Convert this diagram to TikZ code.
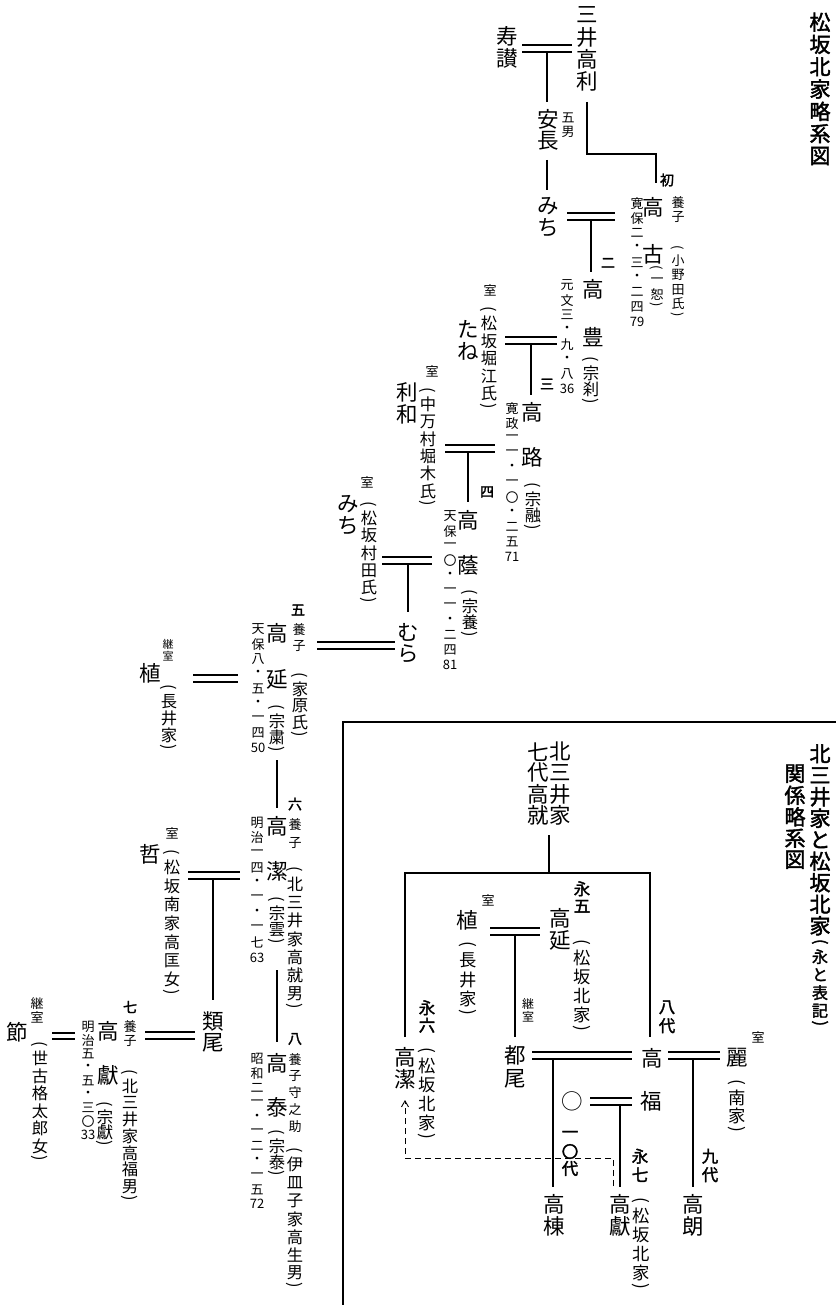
\documentclass[tikz,border=0pt]{standalone}
\usepackage{fontspec}
\usepackage{graphicx}
\usetikzlibrary{arrows.meta}
\newfontfamily\jp{Noto Sans CJK JP}
\newfontfamily\jpb[FakeBold=2]{Noto Sans CJK JP}
\newlength\tatep \newlength\tatew
\def\tateend{TATEEND}\def\PO{POPEN}\def\PC{PCLOSE}\def\kk{\mbox{}}
\def\tateloop#1{\ifx\tateend#1\else\tateitem{#1}\expandafter\tateloop\fi}
\def\tateitem#1{\ifx\PO#1\tateparen{(}\else\ifx\PC#1\tateparen{)}\else\tatecell{#1}\fi\fi}
\def\tatecell#1{\hbox to\tatew{\hss\vbox to\tatep{\vss\hbox{#1}\vss}\hss}}
\def\tateparen#1{\hbox to\tatew{\hss\vbox{\kern1pt\hbox{\rotatebox[origin=c]{-90}{#1}}\kern1pt}\hss}}
\newcommand\V[2][22]{\vbox{\offinterlineskip\tatep=#1pt\tatew=1.4em\tateloop#2\tateend}}
\newcommand\dbl[3]{\draw[ln] (#1,#3) -- (#2,#3) (#1,#3+7) -- (#2,#3+7);}
\tikzset{
 base/.style={inner sep=0pt, outer sep=0pt, anchor=north},
 nm/.style={base, font=\jp\fontsize{21.5}{21.5}\selectfont},
 sm/.style={base, font=\jp\fontsize{13}{13}\selectfont},
 an/.style={base, font=\jp\fontsize{16.3}{16.3}\selectfont},
 anb/.style={base, font=\jp\fontsize{17.3}{17.3}\selectfont},
 gen/.style={base, font=\jpb\fontsize{14}{14}\selectfont},
 genb/.style={base, font=\jpb\fontsize{16.5}{16.5}\selectfont},
 ttl/.style={base, font=\jpb\fontsize{21}{21}\selectfont},
 ln/.style={line width=1.1pt},
 dsh/.style={line width=0.9pt, dash pattern=on 6pt off 4pt},
}
\begin{document}
\begin{tikzpicture}[x=1pt,y=-1pt]
\fill[white] (0,0) rectangle (836,1305);
\useasboundingbox (0,0) rectangle (836,1305);
% frame of the right chart
\draw[ln] (343,1305) -- (343,722) -- (836,722);
% titles
\node[ttl] (t1) at (820,11) {\V[22.3]{松坂北家略系図}};
\node[ttl] (t2) at (820,743) {\V[21.5]{北三井家と松坂北家}};
\node[base, font=\jpb\fontsize{16}{16}\selectfont] (t2b) at (820,938) {\V[18]{\PO 永と表記\PC}};
\node[ttl] (t3) at (795,763) {\V[21.5]{関係略系図}};
% ---------- left chart ----------
\node[nm] (takatoshi) at (587,4) {\V{三井高利}};
\node[nm] (jusan) at (507,25) {\V{寿讃}};
\dbl{522}{572}{45}
\draw[ln] (547,52) -- (547,102);
\node[nm] (yasunaga) at (548,108) {\V{安長}};
\node[sm] (gonan) at (568,111) {\V[14]{五男}};
\draw[ln] (547,160) -- (547,190);
\node[nm] (michi1) at (548,195) {\V{みち}};
\draw[ln] (587,102) -- (587,154) -- (656,154) -- (656,183);
\node[gen] (g1) at (667,172) {\V[16]{初}};
% takahisa
\node[nm] (takahisa) at (653,196) {\V{高}};
\node[nm] (takahisab) at (653,243) {\V{古}};
\node[sm] (ichijo) at (657,265) {\V[14]{\PO 一恕\PC}};
\node[sm] (yoshi1) at (678,196) {\V[14]{養子}};
\node[sm] (onoda) at (678,245) {\V[14.5]{\PO 小野田氏\PC}};
\node[sm] (d1) at (637,196) {\V[14.8]{寛保二・三・二四{79}}};
\dbl{567}{615}{213}
\draw[ln] (591,220) -- (591,272);
\node[gen] (g2) at (608,255) {\V[16]{二}};
% takatoyo
\node[nm] (takatoyo) at (593,278) {\V{高}};
\node[nm] (takatoyob) at (593,326) {\V{豊}};
\node[an] (soset) at (591,355) {\V[16.5]{\PO 宗刹\PC}};
\node[sm] (d2) at (567,278) {\V[14.8]{元文三・九・八{36}}};
\node[sm] (shitsu1) at (490,283) {\V[14]{室}};
\node[nm] (tane) at (468,318) {\V{たね}};
\node[an] (horie) at (489,305) {\V[17.5]{\PO 松坂堀江氏\PC}};
\dbl{505}{557}{337}
\draw[ln] (531,344) -- (531,395);
\node[gen] (g3) at (547,376) {\V[16]{三}};
% takamichi
\node[nm] (takamichi) at (532,401) {\V{高}};
\node[nm] (takamichib) at (532,446) {\V{路}};
\node[an] (soyu) at (533,481) {\V[16.5]{\PO 宗融\PC}};
\node[sm] (d3) at (512,401) {\V[14.8]{寛政一一・一〇・二五{71}}};
\node[sm] (shitsu2) at (432,364) {\V[14]{室}};
\node[nm] (toshikazu) at (407,381) {\V{利和}};
\node[an] (horiki) at (428,386) {\V[17.3]{\PO 中万村堀木氏\PC}};
\dbl{445}{495}{445}
\draw[ln] (468,452) -- (468,502);
\node[gen] (g4) at (487,484) {\V[16]{四}};
% takakage
\node[nm] (takakage) at (468,509) {\V{高}};
\node[nm] (takakageb) at (468,554) {\V{蔭}};
\node[an] (soyo) at (470,588) {\V[16.5]{\PO 宗養\PC}};
\node[sm] (d4) at (450,509) {\V[14.8]{天保一〇・一一・二四{81}}};
\node[sm] (shitsu3) at (367,475) {\V[14]{室}};
\node[nm] (michi2) at (348,493) {\V{みち}};
\node[an] (murata) at (369,500) {\V[17.3]{\PO 松坂村田氏\PC}};
\dbl{382}{432}{557}
\draw[ln] (408,564) -- (408,612);
\node[nm] (mura) at (408,621) {\V{むら}};
\dbl{317}{395}{642}
% takanobu
\node[gen] (g5) at (298,602) {\V[16]{五}};
\node[sm] (yoshi2) at (299,622) {\V[16]{養子}};
\node[nm] (takanobu) at (277,622) {\V{高}};
\node[nm] (takanobub) at (277,668) {\V{延}};
\node[an] (soshuku) at (277,703) {\V[16.5]{\PO 宗粛\PC}};
\node[an] (iehara) at (300,671) {\V[16.5]{\PO 家原氏\PC}};
\node[sm] (d5) at (258,622) {\V[14.8]{天保八・五・一四{50}}};
\node[base, font=\jp\fontsize{11}{11}\selectfont] (keishitsu1) at (168,639) {\V[11.5]{継室}};
\node[nm] (ue1) at (150,662) {\V{植}};
\node[an] (nagai1) at (169,683) {\V[17]{\PO 長井家\PC}};
\dbl{193}{238}{675}
\draw[ln] (277,760) -- (277,808);
% takakiyo
\node[gen] (g6) at (295,796) {\V[16]{六}};
\node[sm] (yoshi3) at (295,816) {\V[18]{養子}};
\node[nm] (takakiyo) at (277,815) {\V{高}};
\node[nm] (takakiyob) at (277,860) {\V{潔}};
\node[an] (soun) at (277,895) {\V[16.5]{\PO 宗雲\PC}};
\node[an] (kitamitsui1) at (295,865) {\V[18.3]{\PO 北三井家高就男\PC}};
\node[sm] (d6) at (257,815) {\V[15]{明治一四・一・一七{63}}};
\draw[ln] (277,970) -- (277,1042);
% takayasu
\node[gen] (g8) at (295,1031) {\V[16]{八}};
\node[sm] (yoshi4) at (295,1051) {\V[16.7]{養子守之助}};
\node[an] (isarago) at (295,1146) {\V[18]{\PO 伊皿子家高生男\PC}};
\node[nm] (takayasu) at (277,1052) {\V{高}};
\node[nm] (takayasub) at (277,1096) {\V{泰}};
\node[an] (sotai) at (277,1128) {\V[16]{\PO 宗泰\PC}};
\node[sm] (d7) at (257,1052) {\V[14.5]{昭和二一・一二・一五{72}}};
% tetsu
\node[sm] (shitsu4) at (172,826) {\V[14]{室}};
\node[nm] (tetsu) at (150,843) {\V{哲}};
\node[an] (takamasa) at (172,848) {\V[18.7]{\PO 松坂南家高匡女\PC}};
\dbl{188}{240}{872}
\draw[ln] (213,878) -- (213,1000);
\node[nm] (ruio) at (213,1010) {\V{類尾}};
\dbl{145}{195}{1032}
% takaaki (left)
\node[gen] (g7) at (130,999) {\V[16]{七}};
\node[sm] (yoshi5) at (130,1020) {\V[14]{養子}};
\node[nm] (takaaki) at (108,1020) {\V{高}};
\node[nm] (takaakib) at (108,1064) {\V{獻}};
\node[an] (soken) at (105,1100) {\V[15]{\PO 宗獻\PC}};
\node[an] (kitamitsui2) at (130,1068) {\V[16.7]{\PO 北三井家高福男\PC}};
\node[sm] (d8) at (88,1020) {\V[13.5]{明治五・五・三〇{33}}};
\draw[ln] (52,1033) -- (75,1033) (52,1039) -- (75,1039);
\node[nm] (setsu) at (17,1021) {\V{節}};
\node[sm] (keishitsu2) at (37,997) {\V[13.5]{継室}};
\node[an] (seko) at (40,1040) {\V[17.5]{\PO 世古格太郎女\PC}};
% ---------- right chart ----------
\node[nm] (kita) at (560,741) {\V[21.3]{北三井家}};
\node[nm] (shichidai) at (538,741) {\V[21.3]{七代高就}};
\draw[ln] (549,835) -- (549,873);
\draw[ln] (405,1037) -- (405,873) -- (650,873) -- (650,1037);
\node[genb] (ei5) at (582,880) {\V[17.5]{永五}};
\node[nm] (takanobu2) at (560,907) {\V{高延}};
\node[anb] (kitake1) at (582,938) {\V[19]{\PO 松坂北家\PC}};
\node[sm] (shitsu5) at (488,893) {\V[14]{室}};
\node[nm] (ue2) at (467,909) {\V{植}};
\node[anb] (nagai2) at (468,940) {\V[19.5]{\PO 長井家\PC}};
\dbl{490}{540}{928}
\draw[ln] (515,935) -- (515,1037);
\node[base, font=\jp\fontsize{12}{12}\selectfont] (keishitsu3) at (528,998) {\V[12.5]{継室}};
\node[nm] (tsuo) at (515,1043) {\V[24]{都尾}};
\node[genb] (ei6) at (427,999) {\V[17.5]{永六}};
\node[nm] (takakiyo2) at (405,1046) {\V{高潔}};
\node[anb] (kitake2) at (427,1046) {\V[19]{\PO 松坂北家\PC}};
\dbl{532}{632}{1052}
\draw[ln] (553,1059) -- (553,1187);
\node[genb] (hachidai) at (667,998) {\V[18.5]{八代}};
\node[nm] (taka8) at (652,1047) {\V{高}};
\node[nm] (fuku8) at (651,1090) {\V{福}};
\dbl{668}{720}{1052}
\draw[ln] (693,1059) -- (693,1187);
\node[sm] (shitsu6) at (758,1030) {\V[14]{室}};
\node[nm] (rei) at (737,1047) {\V{麗}};
\node[anb] (minamike) at (737,1078) {\V[18.5]{\PO 南家\PC}};
\node[nm] (maru) at (572,1090) {\V{○}};
\dbl{590}{632}{1098}
\draw[ln] (620,1105) -- (620,1187);
\node[genb] (dai10) at (570,1126) {\V[17]{一〇代}};
\node[genb] (dai9) at (710,1147) {\V[18.5]{九代}};
\node[genb] (ei7) at (640,1147) {\V[18.5]{永七}};
\node[nm] (takamune) at (554,1193) {\V{高棟}};
\node[nm] (takaaki2) at (620,1193) {\V{高獻}};
\node[nm] (takaakira) at (693,1193) {\V{高朗}};
\node[anb] (kitake3) at (641,1196) {\V[19]{\PO 松坂北家\PC}};
\coordinate (dstart) at (613,1186);
\coordinate (dend) at (405,1100);
\draw[dsh, -{Straight Barb[length=6pt,width=7pt]}] (dstart) -- (613,1158) -- (405,1158) -- (dend);
\end{tikzpicture}
\end{document}
